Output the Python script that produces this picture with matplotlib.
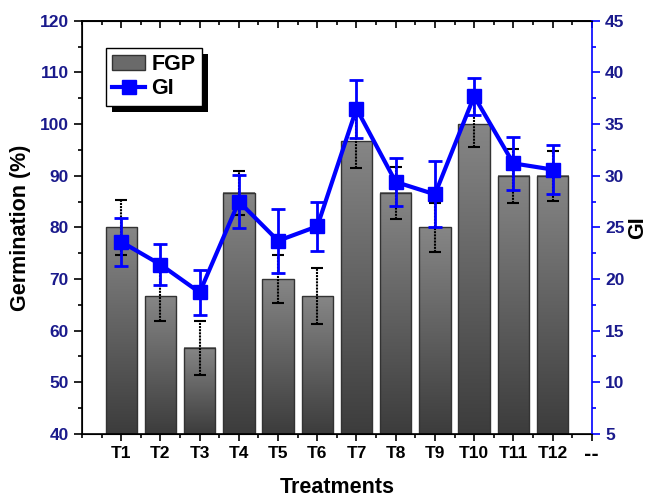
import numpy as np
import matplotlib
matplotlib.use("Agg")
import matplotlib.pyplot as plt
from matplotlib.patches import Rectangle
from matplotlib.lines import Line2D
from matplotlib.ticker import MultipleLocator, FixedLocator
from matplotlib.transforms import IdentityTransform

plt.rcParams['font.family'] = ['Liberation Sans', 'DejaVu Sans']
plt.rcParams['font.weight'] = 'bold'

treatments = ["T1", "T2", "T3", "T4", "T5", "T6", "T7", "T8", "T9", "T10", "T11", "T12"]
fgp = [80, 66.7, 56.7, 86.7, 70, 66.7, 96.7, 86.7, 80, 100, 90, 90]
fgp_err = [5.3, 4.8, 5.2, 4.3, 4.7, 5.5, 5.2, 5.0, 4.7, 4.4, 5.2, 4.8]
gi = [23.6, 21.4, 18.7, 27.5, 23.7, 25.1, 36.5, 29.4, 28.2, 37.7, 31.2, 30.6]
gi_err = [2.3, 2.0, 2.2, 2.6, 3.1, 2.4, 2.8, 2.3, 3.2, 1.8, 2.6, 2.4]

navy = '#1a1a8c'
blue = '#0000ff'
fs_tick = 12.5
fs_label = 15.5

fig = plt.figure(figsize=(6.51, 4.97), dpi=100)
ax = fig.add_axes([0.126, 0.127, 0.783, 0.831])
x = np.arange(1, len(treatments) + 1)

# bars with a vertical grey gradient
grad = np.linspace(0, 1, 256).reshape(-1, 1)
cmap = matplotlib.colors.LinearSegmentedColormap.from_list('g', ['#3c3c3c', '#868686'])
w = 0.8
for xi, v in zip(x, fgp):
    ax.imshow(grad, cmap=cmap, extent=[xi - w / 2, xi + w / 2, 40, v],
              origin='lower', aspect='auto', zorder=1)
    ax.add_patch(Rectangle((xi - w / 2, 40), w, v - 40, fill=False, edgecolor='#333333', lw=1, zorder=2))

eb = ax.errorbar(x, fgp, yerr=fgp_err, fmt='none', ecolor='black', elinewidth=1.5,
                 capsize=4, capthick=1.5, zorder=3)
eb[2][0].set_linestyle((0, (1, 0.5)))

ax.set_xlim(0, 13)
ax.set_ylim(40, 120)
ax.xaxis.set_major_locator(FixedLocator(list(x) + [13]))
ax.set_xticklabels(treatments + ['--'])
ax.xaxis.set_minor_locator(MultipleLocator(0.5))
ax.yaxis.set_major_locator(MultipleLocator(10))
ax.yaxis.set_minor_locator(MultipleLocator(5))
ax.tick_params(axis='x', which='both', direction='out', top=False, labelsize=fs_tick, width=1.2)
ax.tick_params(axis='x', which='major', length=5)
ax.tick_params(axis='x', which='minor', length=3)
ax.tick_params(axis='y', which='both', direction='out', labelsize=fs_tick, labelcolor=navy, width=1.2)
ax.tick_params(axis='y', which='major', length=6)
ax.tick_params(axis='y', which='minor', length=3)
for t in ax.get_xticklabels() + ax.get_yticklabels():
    t.set_fontweight('bold')
ax.get_xticklabels()[-1].set_fontfamily('DejaVu Sans')
ax.set_xlabel("Treatments", fontsize=fs_label, fontweight='bold')
ax.xaxis.set_label_coords(0.5, -0.104)
ax.set_ylabel("Germination (%)", fontsize=fs_label, fontweight='bold', labelpad=6)
for s in ax.spines.values():
    s.set_linewidth(1.2)
ax.spines['right'].set_visible(False)

# top spine with inward ticks
sec = ax.secondary_xaxis('top')
sec.xaxis.set_major_locator(FixedLocator(list(x) + [13]))
sec.xaxis.set_minor_locator(MultipleLocator(0.5))
sec.tick_params(which='both', direction='in', labeltop=False, width=1.2)
sec.tick_params(which='major', length=5)
sec.tick_params(which='minor', length=3)
sec.spines['top'].set_linewidth(1.2)

ax2 = ax.twinx()
ax2.errorbar(x, gi, yerr=gi_err, fmt='none', ecolor=blue, elinewidth=2, capsize=5, capthick=2, zorder=4)
ax2.plot(x, gi, color=blue, lw=3, marker='s', markersize=10, zorder=5)
ax2.set_ylim(5, 45)
ax2.yaxis.set_major_locator(MultipleLocator(5))
ax2.yaxis.set_minor_locator(MultipleLocator(2.5))
ax2.tick_params(axis='y', which='both', direction='out', colors=blue, labelcolor=navy,
                labelsize=fs_tick, width=1.2)
ax2.tick_params(axis='y', which='major', length=6)
ax2.tick_params(axis='y', which='minor', length=3)
for t in ax2.get_yticklabels():
    t.set_fontweight('bold')
ax2.spines['right'].set_color(blue)
ax2.spines['right'].set_linewidth(1.2)
ax2.set_ylabel("GI", fontsize=fs_label, fontweight='bold', labelpad=2)

handles = [Rectangle((0, 0), 1, 1, facecolor='#6a6a6a', edgecolor='#333333'),
           Line2D([], [], color=blue, lw=3, marker='s', markersize=10)]
leg = ax2.legend(handles, ['FGP', 'GI'], loc='upper left', bbox_to_anchor=(0.047, 0.935),
                 frameon=True, fancybox=False, edgecolor='black', framealpha=1,
                 prop={'weight': 'bold', 'size': 15.5}, handlelength=1.5, handletextpad=0.3,
                 borderpad=0.3, labelspacing=0.15, borderaxespad=0)
leg.get_frame().set_linewidth(1.0)
leg.set_zorder(10)

fig.canvas.draw()
bb = leg.get_window_extent()
shadow = Rectangle((bb.x0 + 6, bb.y0 - 6), bb.width, bb.height, transform=IdentityTransform(),
                   facecolor='black', edgecolor='none')
ax2.add_artist(shadow)
shadow.set_zorder(9)

fig.savefig("out.png", dpi=100)
